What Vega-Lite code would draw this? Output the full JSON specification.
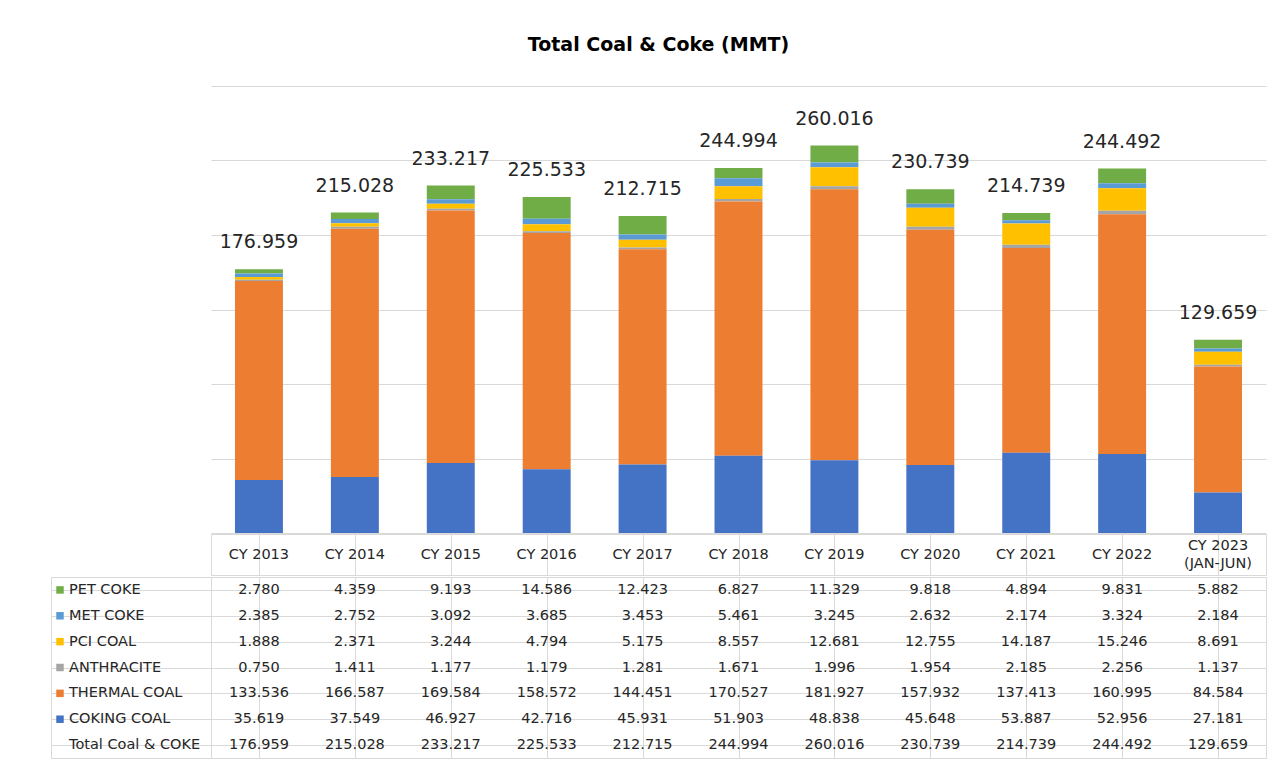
{
  "$schema": "https://vega.github.io/schema/vega-lite/v6.json",
  "padding": {"left": 50, "top": 36, "right": 13, "bottom": 0},
  "background": "white",
  "title": {"text": "Total Coal & Coke (MMT)", "font": "DejaVu Sans", "fontSize": 19, "fontWeight": "bold", "color": "#000000", "anchor": "middle", "offset": 31},
  "config": {"view": {"stroke": null}, "font": "DejaVu Sans", "concat": {"spacing": 0},
             "axis": {"minExtent": 0, "maxExtent": 0, "labelPadding": 0, "tickSize": 0, "titlePadding": 0, "offset": 0}},
  "data": {"values": [
    {"year": "CY 2013", "series": "PET COKE", "value": 2.780},
    {"year": "CY 2014", "series": "PET COKE", "value": 4.359},
    {"year": "CY 2015", "series": "PET COKE", "value": 9.193},
    {"year": "CY 2016", "series": "PET COKE", "value": 14.586},
    {"year": "CY 2017", "series": "PET COKE", "value": 12.423},
    {"year": "CY 2018", "series": "PET COKE", "value": 6.827},
    {"year": "CY 2019", "series": "PET COKE", "value": 11.329},
    {"year": "CY 2020", "series": "PET COKE", "value": 9.818},
    {"year": "CY 2021", "series": "PET COKE", "value": 4.894},
    {"year": "CY 2022", "series": "PET COKE", "value": 9.831},
    {"year": "CY 2023\n(JAN-JUN)", "series": "PET COKE", "value": 5.882},
    {"year": "CY 2013", "series": "MET COKE", "value": 2.385},
    {"year": "CY 2014", "series": "MET COKE", "value": 2.752},
    {"year": "CY 2015", "series": "MET COKE", "value": 3.092},
    {"year": "CY 2016", "series": "MET COKE", "value": 3.685},
    {"year": "CY 2017", "series": "MET COKE", "value": 3.453},
    {"year": "CY 2018", "series": "MET COKE", "value": 5.461},
    {"year": "CY 2019", "series": "MET COKE", "value": 3.245},
    {"year": "CY 2020", "series": "MET COKE", "value": 2.632},
    {"year": "CY 2021", "series": "MET COKE", "value": 2.174},
    {"year": "CY 2022", "series": "MET COKE", "value": 3.324},
    {"year": "CY 2023\n(JAN-JUN)", "series": "MET COKE", "value": 2.184},
    {"year": "CY 2013", "series": "PCI COAL", "value": 1.888},
    {"year": "CY 2014", "series": "PCI COAL", "value": 2.371},
    {"year": "CY 2015", "series": "PCI COAL", "value": 3.244},
    {"year": "CY 2016", "series": "PCI COAL", "value": 4.794},
    {"year": "CY 2017", "series": "PCI COAL", "value": 5.175},
    {"year": "CY 2018", "series": "PCI COAL", "value": 8.557},
    {"year": "CY 2019", "series": "PCI COAL", "value": 12.681},
    {"year": "CY 2020", "series": "PCI COAL", "value": 12.755},
    {"year": "CY 2021", "series": "PCI COAL", "value": 14.187},
    {"year": "CY 2022", "series": "PCI COAL", "value": 15.246},
    {"year": "CY 2023\n(JAN-JUN)", "series": "PCI COAL", "value": 8.691},
    {"year": "CY 2013", "series": "ANTHRACITE", "value": 0.750},
    {"year": "CY 2014", "series": "ANTHRACITE", "value": 1.411},
    {"year": "CY 2015", "series": "ANTHRACITE", "value": 1.177},
    {"year": "CY 2016", "series": "ANTHRACITE", "value": 1.179},
    {"year": "CY 2017", "series": "ANTHRACITE", "value": 1.281},
    {"year": "CY 2018", "series": "ANTHRACITE", "value": 1.671},
    {"year": "CY 2019", "series": "ANTHRACITE", "value": 1.996},
    {"year": "CY 2020", "series": "ANTHRACITE", "value": 1.954},
    {"year": "CY 2021", "series": "ANTHRACITE", "value": 2.185},
    {"year": "CY 2022", "series": "ANTHRACITE", "value": 2.256},
    {"year": "CY 2023\n(JAN-JUN)", "series": "ANTHRACITE", "value": 1.137},
    {"year": "CY 2013", "series": "THERMAL COAL", "value": 133.536},
    {"year": "CY 2014", "series": "THERMAL COAL", "value": 166.587},
    {"year": "CY 2015", "series": "THERMAL COAL", "value": 169.584},
    {"year": "CY 2016", "series": "THERMAL COAL", "value": 158.572},
    {"year": "CY 2017", "series": "THERMAL COAL", "value": 144.451},
    {"year": "CY 2018", "series": "THERMAL COAL", "value": 170.527},
    {"year": "CY 2019", "series": "THERMAL COAL", "value": 181.927},
    {"year": "CY 2020", "series": "THERMAL COAL", "value": 157.932},
    {"year": "CY 2021", "series": "THERMAL COAL", "value": 137.413},
    {"year": "CY 2022", "series": "THERMAL COAL", "value": 160.995},
    {"year": "CY 2023\n(JAN-JUN)", "series": "THERMAL COAL", "value": 84.584},
    {"year": "CY 2013", "series": "COKING COAL", "value": 35.619},
    {"year": "CY 2014", "series": "COKING COAL", "value": 37.549},
    {"year": "CY 2015", "series": "COKING COAL", "value": 46.927},
    {"year": "CY 2016", "series": "COKING COAL", "value": 42.716},
    {"year": "CY 2017", "series": "COKING COAL", "value": 45.931},
    {"year": "CY 2018", "series": "COKING COAL", "value": 51.903},
    {"year": "CY 2019", "series": "COKING COAL", "value": 48.838},
    {"year": "CY 2020", "series": "COKING COAL", "value": 45.648},
    {"year": "CY 2021", "series": "COKING COAL", "value": 53.887},
    {"year": "CY 2022", "series": "COKING COAL", "value": 52.956},
    {"year": "CY 2023\n(JAN-JUN)", "series": "COKING COAL", "value": 27.181},
    {"year": "CY 2013", "series": "Total Coal & COKE", "value": 176.959},
    {"year": "CY 2014", "series": "Total Coal & COKE", "value": 215.028},
    {"year": "CY 2015", "series": "Total Coal & COKE", "value": 233.217},
    {"year": "CY 2016", "series": "Total Coal & COKE", "value": 225.533},
    {"year": "CY 2017", "series": "Total Coal & COKE", "value": 212.715},
    {"year": "CY 2018", "series": "Total Coal & COKE", "value": 244.994},
    {"year": "CY 2019", "series": "Total Coal & COKE", "value": 260.016},
    {"year": "CY 2020", "series": "Total Coal & COKE", "value": 230.739},
    {"year": "CY 2021", "series": "Total Coal & COKE", "value": 214.739},
    {"year": "CY 2022", "series": "Total Coal & COKE", "value": 244.492},
    {"year": "CY 2023\n(JAN-JUN)", "series": "Total Coal & COKE", "value": 129.659}
  ]},
  "spacing": 0,
  "vconcat": [
    {
      "spacing": 0,
      "bounds": "flush",
      "hconcat": [
        {"width": 160, "height": 447, "data": {"values": []}, "mark": {"type": "point", "opacity": 0}},
        {
          "width": 1055,
          "height": 447,
          "encoding": {
            "x": {"field": "year", "type": "nominal", "scale": {"paddingInner": 0, "paddingOuter": 0}, "axis": null}
          },
          "layer": [
            {
              "transform": [
                {"filter": "datum.series !== 'Total Coal & COKE'"},
                {"calculate": "indexof(['COKING COAL', 'THERMAL COAL', 'ANTHRACITE', 'PCI COAL', 'MET COKE', 'PET COKE'], datum.series)", "as": "stackOrder"}
              ],
              "mark": {"type": "bar", "width": {"band": 0.5}},
              "encoding": {
                "y": {"field": "value", "type": "quantitative", "stack": "zero", "scale": {"domain": [0, 300], "nice": false},
                      "axis": {"orient": "right", "values": [0, 50, 100, 150, 200, 250, 300], "grid": true, "gridColor": "#d9d9d9", "labels": false, "ticks": false, "domain": false, "title": null}},
                "color": {"field": "series", "type": "nominal",
                          "scale": {"domain": ["COKING COAL", "THERMAL COAL", "ANTHRACITE", "PCI COAL", "MET COKE", "PET COKE"],
                                    "range": ["#4472C4", "#ED7D31", "#A5A5A5", "#FFC000", "#5B9BD5", "#70AD47"]},
                          "legend": null},
                "order": {"field": "stackOrder", "type": "quantitative", "sort": "ascending"}
              }
            },
            {
              "transform": [{"filter": "datum.series === 'Total Coal & COKE'"}],
              "mark": {"type": "text", "baseline": "alphabetic", "dy": -21, "fontSize": 19, "color": "#262626"},
              "encoding": {
                "y": {"field": "value", "type": "quantitative"},
                "text": {"field": "value", "type": "quantitative", "format": ".3f"}
              }
            }
          ]
        }
      ]
    },
    {
      "spacing": 0,
      "bounds": "flush",
      "hconcat": [
        {"width": 160, "height": 41, "data": {"values": []}, "mark": {"type": "point", "opacity": 0}},
        {
          "width": 1055,
          "height": 41,
          "view": {"stroke": "#d9d9d9"},
          "transform": [{"filter": "datum.series === 'Total Coal & COKE'"}],
          "encoding": {
            "x": {"field": "year", "type": "nominal", "scale": {"paddingInner": 0, "paddingOuter": 0},
                  "axis": {"grid": true, "gridColor": "#d9d9d9", "bandPosition": 0, "labels": false, "ticks": false, "domain": false, "title": null}},
            "text": {"field": "year", "type": "nominal"}
          },
          "layer": [
            {
              "transform": [{"filter": "indexof(datum.year, 'JAN') < 0"}],
              "mark": {"type": "text", "fontSize": 14.5, "color": "#262626"}
            },
            {
              "transform": [{"filter": "indexof(datum.year, 'JAN') >= 0"}],
              "mark": {"type": "text", "fontSize": 14.5, "color": "#262626", "lineBreak": "\n", "lineHeight": 18, "dy": -9}
            }
          ]
        }
      ]
    },
    {
      "spacing": 0,
      "bounds": "flush",
      "hconcat": [
        {
          "width": 160,
          "height": 181,
          "view": {"stroke": "#d9d9d9"},
          "encoding": {
            "y": {"field": "series", "type": "nominal",
                  "sort": ["PET COKE", "MET COKE", "PCI COAL", "ANTHRACITE", "THERMAL COAL", "COKING COAL", "Total Coal & COKE"],
                  "scale": {"paddingInner": 0, "paddingOuter": 0},
                  "axis": {"grid": true, "gridColor": "#d9d9d9", "bandPosition": 0, "labels": false, "ticks": false, "domain": false, "title": null}}
          },
          "layer": [
            {
              "transform": [{"filter": "datum.year === 'CY 2013' && datum.series !== 'Total Coal & COKE'"}],
              "mark": {"type": "square", "filled": true, "opacity": 1, "size": 56, "xOffset": -71},
              "encoding": {"color": {"field": "series", "type": "nominal", "legend": null}}
            },
            {
              "transform": [{"filter": "datum.year === 'CY 2013'"}],
              "mark": {"type": "text", "align": "left", "dx": -62, "fontSize": 14.5, "color": "#262626"},
              "encoding": {"text": {"field": "series", "type": "nominal"}}
            }
          ]
        },
        {
          "width": 1055,
          "height": 181,
          "view": {"stroke": "#d9d9d9"},
          "mark": {"type": "text", "fontSize": 14.5, "color": "#262626"},
          "encoding": {
            "x": {"field": "year", "type": "nominal", "scale": {"paddingInner": 0, "paddingOuter": 0},
                  "axis": {"grid": true, "gridColor": "#d9d9d9", "bandPosition": 0, "labels": false, "ticks": false, "domain": false, "title": null}},
            "y": {"field": "series", "type": "nominal",
                  "sort": ["PET COKE", "MET COKE", "PCI COAL", "ANTHRACITE", "THERMAL COAL", "COKING COAL", "Total Coal & COKE"],
                  "scale": {"paddingInner": 0, "paddingOuter": 0},
                  "axis": {"orient": "right", "grid": true, "gridColor": "#d9d9d9", "bandPosition": 0, "labels": false, "ticks": false, "domain": false, "title": null}},
            "text": {"field": "value", "type": "quantitative", "format": ".3f"}
          }
        }
      ]
    }
  ]
}
